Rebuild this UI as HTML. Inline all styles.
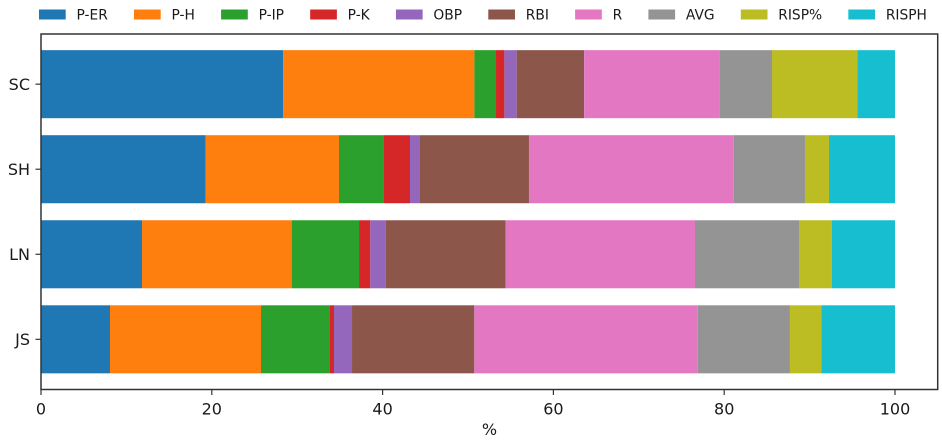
<!DOCTYPE html>
<html>
<head>
<meta charset="utf-8">
<title>Stacked percentage bars</title>
<style>
  html, body { margin: 0; padding: 0; background: #fff; width: 942px; height: 440px; overflow: hidden; }
  svg { display: block; font-family: "DejaVu Sans", "Liberation Sans", sans-serif; fill: #1a1a1a; filter: blur(0.35px); }
</style>
</head>
<body>
<svg id="chart" width="942" height="440" viewBox="0 0 942 440" xmlns="http://www.w3.org/2000/svg"></svg>
<script>
const categories = ["JS", "LN", "SH", "SC"];
const seriesNames = ["P-ER", "P-H", "P-IP", "P-K", "OBP", "RBI", "R", "AVG", "RISP%", "RISPH"];
const seriesColors = ["#1f77b4", "#ff7f0e", "#2ca02c", "#d62728", "#9467bd", "#8c564b", "#e377c2", "#949494", "#bcbd22", "#17becf"];
const perEr = [8.08, 11.83, 19.29, 28.37];
const pH = [17.68, 17.52, 15.60, 22.38];
const pIp = [8.00, 7.89, 5.19, 2.53];
const pK = [0.55, 1.32, 3.13, 0.98];
const obp = [2.11, 1.80, 1.17, 1.44];
const rbi = [14.32, 14.05, 12.76, 7.90];
const runs = [26.16, 22.17, 23.97, 15.90];
const avg = [10.80, 12.18, 8.35, 6.10];
const rispPct = [3.67, 3.83, 2.81, 10.00];
const risph = [8.63, 7.41, 7.73, 4.40];
const xTicks = [0, 20, 40, 60, 80, 100];
const xTitle = "%";

const seriesValues = [perEr, pH, pIp, pK, obp, rbi, runs, avg, rispPct, risph];
const svg = document.getElementById('chart');
const NS = 'http://www.w3.org/2000/svg';

const plot = { left: 41, right: 937.7, top: 34, bottom: 389.5 };
const xMax = 105;
const xUnit = (plot.right - plot.left) / xMax;
const yUnit = 85.05;
const barSize = 0.8;
const yPad = 0.19;

function xScale(v) { return plot.left + v * xUnit; }
function yScale(i) { return plot.bottom - (yPad + barSize / 2 + i) * yUnit; }

function make(tag, attrs, parent) {
  const el = document.createElementNS(NS, tag);
  for (const k in attrs) el.setAttribute(k, attrs[k]);
  (parent || svg).appendChild(el);
  return el;
}

// Bars
categories.forEach(function (cat, c) {
  let acc = 0;
  seriesValues.forEach(function (vals, s) {
    const r = make('rect', {
      x: xScale(acc),
      y: yScale(c) - barSize * yUnit / 2,
      width: xScale(acc + vals[c]) - xScale(acc),
      height: barSize * yUnit,
      fill: seriesColors[s]
    });
    
    
    acc += vals[c];
  });
});

// Plot frame
const frame = make('rect', {
  x: plot.left, y: plot.top,
  width: plot.right - plot.left, height: plot.bottom - plot.top,
  fill: 'none', stroke: '#333', 'stroke-width': 1.5
});



// X axis ticks
xTicks.forEach(function (t) {
  const tick = make('line', {
    x1: xScale(t), x2: xScale(t), y1: plot.bottom, y2: plot.bottom + 5.5,
    stroke: '#333', 'stroke-width': 1.2
  });
  
  
  const label = make('text', {
    x: xScale(t), y: 414.3, 'text-anchor': 'middle', 'font-size': 16
  });
  label.textContent = String(t);
  
  
});

// Y axis ticks
categories.forEach(function (cat, c) {
  const tick = make('line', {
    x1: plot.left - 5.5, x2: plot.left, y1: yScale(c), y2: yScale(c),
    stroke: '#333', 'stroke-width': 1.2
  });
  
  
  const label = make('text', {
    x: 30, y: yScale(c) + 5.8, 'text-anchor': 'end', 'font-size': 16
  });
  label.textContent = cat;
  
  
});

// X axis title
const xt = make('text', { x: 489.5, y: 435, 'text-anchor': 'middle', 'font-size': 16 });
xt.textContent = xTitle;



// Legend: entries flow left to right from measured text widths
let legendX = 39;
const swatchW = 26.7;
const swatchGap = 10.8;
const entryGap = 26.2;
seriesNames.forEach(function (name, s) {
  const slug = name.toLowerCase().replace('%', '-pct');
  const swatch = make('rect', {
    x: legendX, y: 9.5, width: swatchW, height: 10, fill: seriesColors[s]
  });
  
  
  const label = make('text', {
    x: legendX + swatchW + swatchGap, y: 19.7, 'font-size': 13.8
  });
  label.textContent = name;
  
  
  legendX += swatchW + swatchGap + label.getComputedTextLength() + entryGap;
});
</script>
</body>
</html>
